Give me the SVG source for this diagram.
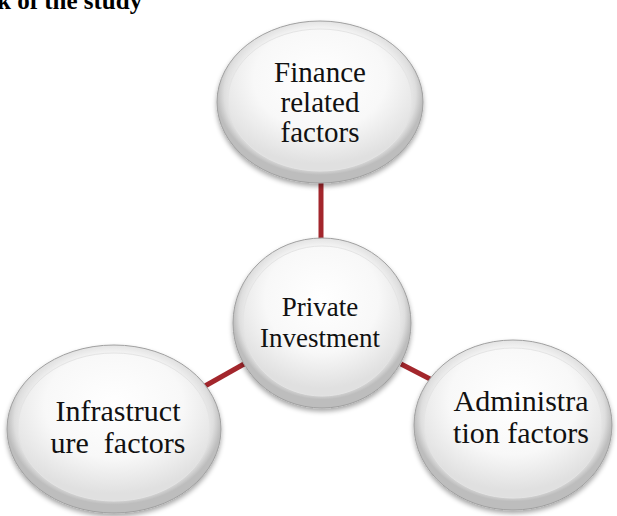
<svg xmlns="http://www.w3.org/2000/svg" width="617" height="516" viewBox="0 0 617 516">
<defs>
<radialGradient id="outer" cx="50%" cy="45%" r="50%">
<stop offset="0" stop-color="#ffffff"/>
<stop offset="0.8" stop-color="#f5f5f5"/>
<stop offset="0.93" stop-color="#dedede"/>
<stop offset="1" stop-color="#bdbdbd"/>
</radialGradient>
<radialGradient id="inner" cx="50%" cy="35%" r="60%">
<stop offset="0" stop-color="#ffffff"/>
<stop offset="0.6" stop-color="#f8f8f8"/>
<stop offset="1" stop-color="#e0e0e0"/>
</radialGradient>
<filter id="shadow" x="-20%" y="-20%" width="140%" height="150%">
<feGaussianBlur in="SourceAlpha" stdDeviation="2.5"/>
<feOffset dx="0" dy="3" result="b"/>
<feComponentTransfer><feFuncA type="linear" slope="0.35"/></feComponentTransfer>
<feMerge><feMergeNode/><feMergeNode in="SourceGraphic"/></feMerge>
</filter>
</defs>
<style>
.o{fill:url(#outer);stroke:#a0a0a0;stroke-width:1;filter:url(#shadow)}
.i{fill:url(#inner);stroke:#e4e4e4;stroke-width:1}
.t{font-family:"Liberation Serif","Times New Roman",serif;fill:#111;text-anchor:middle}
.c{stroke:#a3262c;stroke-width:5;fill:none}
</style>
<text x="-3" y="9" font-family="'Liberation Serif','Times New Roman',serif" font-weight="bold" font-size="25" fill="#000">k of the study</text>
<g id="connectors">
<line class="c" x1="321" y1="180" x2="321" y2="240"/>
<line class="c" x1="205" y1="386" x2="244" y2="364"/>
<line class="c" x1="401" y1="364" x2="432" y2="380"/>
</g>
<g id="finance">
<ellipse class="o" cx="320" cy="102" rx="103" ry="81"/>
<ellipse class="i" cx="320" cy="100" rx="92" ry="71"/>
<text class="t" font-size="29"><tspan x="320" y="82">Finance</tspan><tspan x="320" y="112">related</tspan><tspan x="320" y="142">factors</tspan></text>
</g>
<g id="private">
<ellipse class="o" cx="322" cy="323" rx="89" ry="85"/>
<ellipse class="i" cx="322" cy="321" rx="79" ry="75"/>
<text class="t" font-size="27"><tspan x="320" y="316">Private</tspan><tspan x="320" y="347">Investment</tspan></text>
</g>
<g id="infrastructure">
<ellipse class="o" cx="114" cy="429" rx="107" ry="84"/>
<ellipse class="i" cx="114" cy="427" rx="96" ry="74"/>
<text class="t" font-size="30" xml:space="preserve"><tspan x="118" y="421">Infrastruct</tspan><tspan x="118" y="453">ure  factors</tspan></text>
</g>
<g id="administration">
<ellipse class="o" cx="513" cy="425" rx="99" ry="85"/>
<ellipse class="i" cx="513" cy="423" rx="89" ry="75"/>
<text class="t" font-size="30"><tspan x="521" y="411">Administra</tspan><tspan x="521" y="443">tion factors</tspan></text>
</g>
</svg>
